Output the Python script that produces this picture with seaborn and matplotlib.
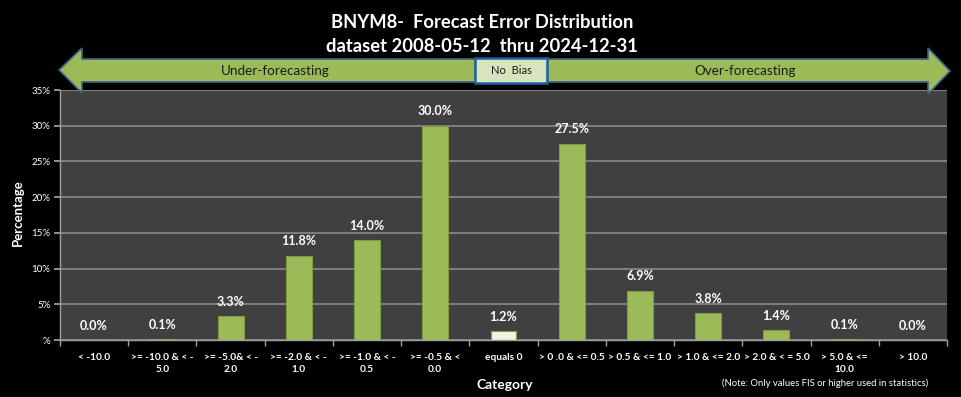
"""Forecast error distribution chart (BNYM8)."""

import matplotlib

matplotlib.use("Agg")
import matplotlib.pyplot as plt
import pandas as pd
import seaborn as sns
from matplotlib.patches import Polygon, Rectangle
from matplotlib.ticker import FuncFormatter, MultipleLocator

CATEGORIES = [
    "< -10.0", ">= -10.0 & < -\n5.0", ">= -5.0& < -\n2.0", ">= -2.0 & < -\n1.0",
    ">= -1.0 & < -\n0.5", ">= -0.5 & <\n0.0", "equals 0", "> 0 .0 & <= 0.5",
    "> 0.5 & <= 1.0", "> 1.0 & <= 2.0", "> 2.0 & < = 5.0", "> 5.0 & <=\n10.0",
    "> 10.0",
]
PERCENTAGES = [0.0, 0.1, 3.3, 11.8, 14.0, 30.0, 1.2, 27.5, 6.9, 3.8, 1.4, 0.1, 0.0]

TITLE = "BNYM8-  Forecast Error Distribution\ndataset 2008-05-12  thru 2024-12-31"

GREEN = "#9BBB59"
PALE = "#EEF3E2"
FONT = ["Lato", "DejaVu Sans"]

sns.set_theme(style="dark")
plt.rcParams["font.family"] = FONT

W, H = 961, 397
fig = plt.figure(figsize=(W / 100, H / 100), dpi=100, facecolor="black")
ax = fig.add_axes([60 / W, 1 - 340 / H, 887 / W, 250 / H])
ax.set_facecolor("#404040")

df = pd.DataFrame({"category": CATEGORIES, "pct": PERCENTAGES})
colors = [PALE if c == "equals 0" else GREEN for c in CATEGORIES]
sns.barplot(
    data=df, x="category", y="pct", hue="category", palette=colors,
    legend=False, width=0.38, saturation=1, edgecolor="#7F9A48", linewidth=0.8,
    ax=ax,
)

for i, v in enumerate(PERCENTAGES):
    ax.annotate(f"{v:.1f}%", (i, v), xytext=(0, 6), textcoords="offset points",
                ha="center", va="bottom", color="white", fontsize=9,
                fontweight="bold")

ax.set_xlim(-0.5, len(CATEGORIES) - 0.5)
ax.set_ylim(0, 35)
ax.yaxis.set_major_locator(MultipleLocator(5))
ax.yaxis.set_major_formatter(FuncFormatter(lambda v, _: "%" if v == 0 else f"{v:.0f}%"))
ax.grid(axis="y", color="#8A8A8A", linewidth=1.2)
ax.grid(axis="x", visible=False)
ax.set_axisbelow(True)

ax.set_xticks(range(len(CATEGORIES)))
ax.set_xticklabels(CATEGORIES, color="white", fontsize=7.3, fontweight="bold",
                   linespacing=1.45)
ax.set_xticks([i + 0.5 for i in range(-1, len(CATEGORIES))], minor=True)
ax.tick_params(axis="x", which="major", length=0, pad=9)
ax.tick_params(axis="x", which="minor", length=4, color="#A0A0A0", bottom=True)
ax.tick_params(axis="y", length=4, color="#A0A0A0", left=True, labelsize=7,
               labelcolor="white", pad=3)

for side in ["top", "right"]:
    ax.spines[side].set_visible(False)
for side in ["left", "bottom"]:
    ax.spines[side].set_color("#A0A0A0")
    ax.spines[side].set_linewidth(1.0)

ax.set_xlabel("")
ax.set_ylabel("")
fig.text(18 / W, 1 - 213 / H, "Percentage", rotation=90, ha="center", va="center",
         color="white", fontsize=9.5, fontweight="bold")
fig.text(505 / W, 1 - 385 / H, "Category", ha="center", va="center",
         color="white", fontsize=10, fontweight="bold")
fig.text(825 / W, 1 - 383 / H, "(Note: Only values FIS or higher used in statistics)",
         ha="center", va="center", color="white", fontsize=6.8)

fig.text(482 / W, 1 - 35 / H, TITLE, ha="center", va="center", color="white",
         fontsize=13.2, fontweight="bold", linespacing=1.5)


def px(x, y):
    return (x / W, 1 - y / H)


arrow_pts = [(59, 70), (82, 48), (82, 59), (928, 59), (928, 48), (950, 71),
             (928, 94), (928, 82), (82, 82), (82, 93)]
fig.patches.append(Polygon([px(x, y) for x, y in arrow_pts], closed=True,
                           transform=fig.transFigure, facecolor=GREEN,
                           edgecolor="#3E5F8A", linewidth=1.2, zorder=2))
fig.patches.append(Rectangle(px(475, 83), 72 / W, 25 / H, transform=fig.transFigure,
                             facecolor="#D7E4BD", edgecolor="#1F5FA0",
                             linewidth=1.8, zorder=3))
fig.text(275 / W, 1 - 71 / H, "Under-forecasting", ha="center", va="center",
         color="#1A1A1A", fontsize=9.7)
fig.text(745 / W, 1 - 71 / H, "Over-forecasting", ha="center", va="center",
         color="#1A1A1A", fontsize=9.7)
fig.text(511 / W, 1 - 71 / H, "No  Bias", ha="center", va="center",
         color="#1A1A1A", fontsize=8, zorder=4)

fig.savefig("out.png", dpi=100, facecolor="black")
